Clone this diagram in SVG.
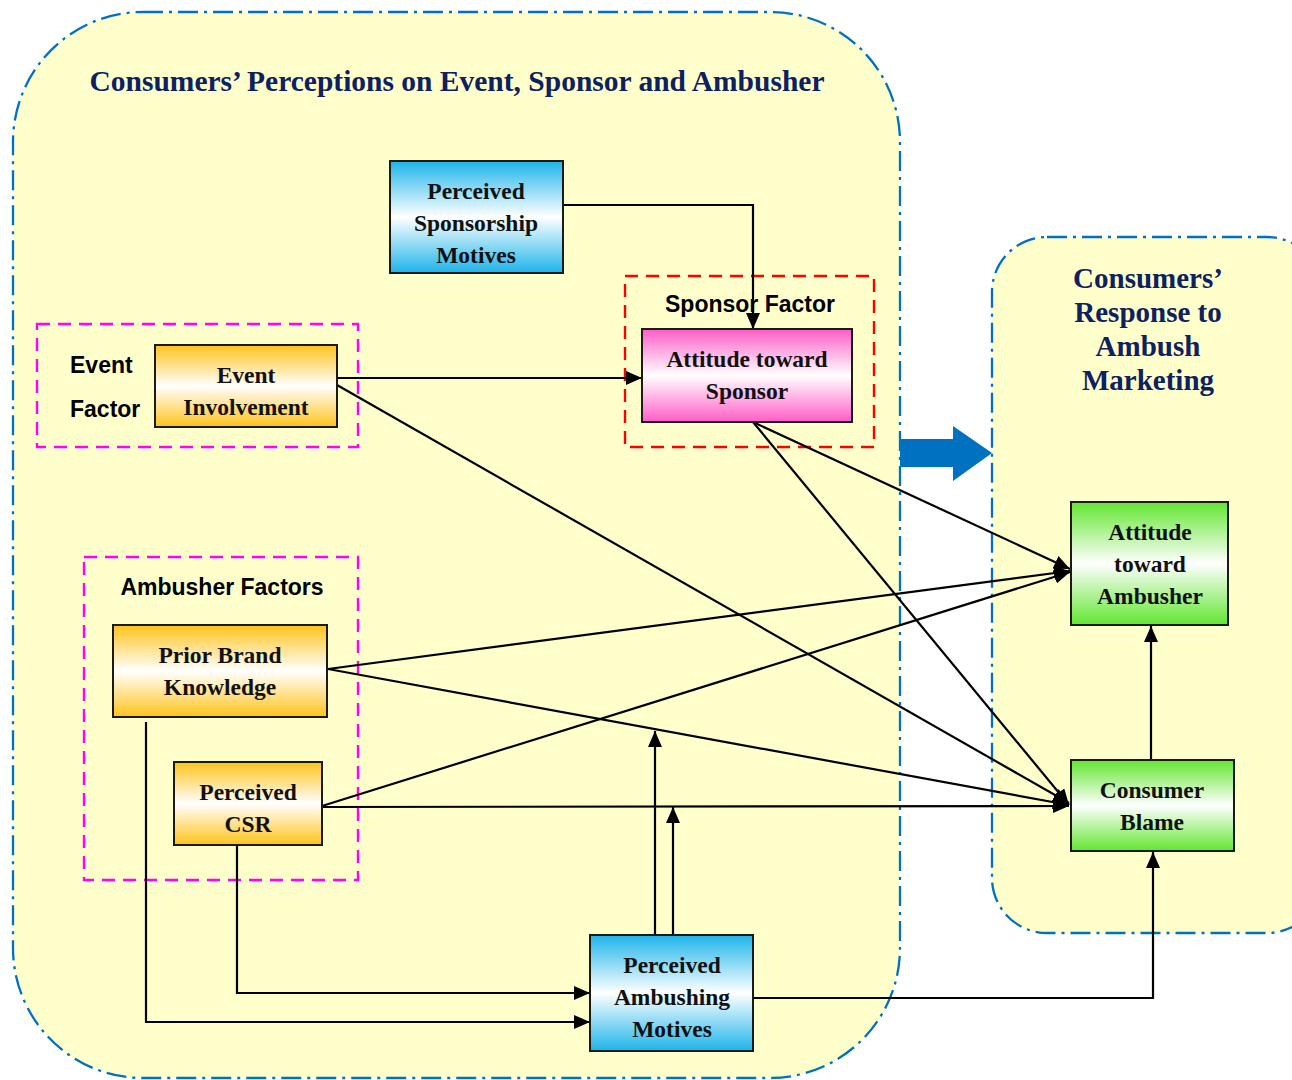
<svg xmlns="http://www.w3.org/2000/svg" width="1292" height="1080" viewBox="0 0 1292 1080">
<defs>
<linearGradient id="gBlue" x1="0" y1="0" x2="0" y2="1"><stop offset="0" stop-color="#1DB4EA"/><stop offset="0.5" stop-color="#FFFFFF"/><stop offset="1" stop-color="#1DB4EA"/></linearGradient>
<linearGradient id="gOrange" x1="0" y1="0" x2="0" y2="1"><stop offset="0" stop-color="#FFC31A"/><stop offset="0.5" stop-color="#FFFFFF"/><stop offset="1" stop-color="#FFC31A"/></linearGradient>
<linearGradient id="gPink" x1="0" y1="0" x2="0" y2="1"><stop offset="0" stop-color="#FF5CC6"/><stop offset="0.5" stop-color="#FFFFFF"/><stop offset="1" stop-color="#FF5CC6"/></linearGradient>
<linearGradient id="gGreen" x1="0" y1="0" x2="0" y2="1"><stop offset="0" stop-color="#62E630"/><stop offset="0.5" stop-color="#FFFFFF"/><stop offset="1" stop-color="#62E630"/></linearGradient>
<marker id="ah" markerUnits="userSpaceOnUse" markerWidth="16" markerHeight="14" refX="16" refY="7" orient="auto"><path d="M0,0 L16,7 L0,14 z" fill="#000"/></marker>
<style>
.panel{fill:#FFFFCC;stroke:#0070C0;stroke-width:2.3;stroke-dasharray:20 6 3 6}
.ptitle{font-family:"Liberation Serif","Times New Roman",serif;font-weight:bold;fill:#0D2160;text-anchor:middle}
.box{stroke:#1a1a1a;stroke-width:2}
.nt{font-family:"Liberation Serif","Times New Roman",serif;font-weight:bold;font-size:23.5px;fill:#111;text-anchor:middle}
.lbl{font-family:"Liberation Sans",Arial,sans-serif;font-weight:bold;font-size:23px;fill:#000}
.grpM{fill:none;stroke:#FF00FF;stroke-width:2.4;stroke-dasharray:13 8}
.grpR{fill:none;stroke:#FF0000;stroke-width:2.4;stroke-dasharray:13 8}
.c{fill:none;stroke:#000;stroke-width:2.2;marker-end:url(#ah)}
</style>
</defs>
<rect width="1292" height="1080" fill="#FFFFFF"/>
<g id="panel-left">
<rect class="panel" x="13" y="12" width="887" height="1066" rx="130" ry="130"/>
<text class="ptitle" x="457" y="91" font-size="29" textLength="735" lengthAdjust="spacingAndGlyphs">Consumers’ Perceptions on Event, Sponsor and Ambusher</text>
</g>
<g id="panel-right">
<rect class="panel" x="992" y="237" width="330" height="696" rx="55" ry="55"/>
<text class="ptitle" font-size="29" x="1148" y="288">Consumers’</text>
<text class="ptitle" font-size="29" x="1148" y="322">Response to</text>
<text class="ptitle" font-size="29" x="1148" y="356">Ambush</text>
<text class="ptitle" font-size="29" x="1148" y="390">Marketing</text>
</g>
<g id="big-arrow">
<polygon points="900,439 953,439 953,426 992,453 953,481 953,467 900,467" fill="#0070C0"/>
</g>
<g id="group-event">
<rect class="grpM" x="37" y="324" width="321" height="123"/>
<text class="lbl" x="70" y="373">Event</text>
<text class="lbl" x="70" y="417">Factor</text>
</g>
<g id="group-sponsor">
<rect class="grpR" x="625" y="276" width="249" height="171"/>
<text class="lbl" x="750" y="312" text-anchor="middle">Sponsor Factor</text>
</g>
<g id="group-ambusher">
<rect class="grpM" x="84" y="557" width="274" height="323"/>
<text class="lbl" x="222" y="595" text-anchor="middle">Ambusher Factors</text>
</g>
<g id="connectors">
<polyline class="c" points="563,205 753,205 753,329"/>
<line class="c" x1="337" y1="378" x2="642" y2="378"/>
<line class="c" x1="337" y1="385" x2="1069" y2="803"/>
<line class="c" x1="753" y1="422" x2="1070" y2="569"/>
<line class="c" x1="753" y1="422" x2="1069" y2="805"/>
<line class="c" x1="328" y1="669" x2="1070" y2="571"/>
<line class="c" x1="328" y1="669" x2="1069" y2="805"/>
<line class="c" x1="322" y1="806" x2="1070" y2="572"/>
<line class="c" x1="322" y1="807" x2="1069" y2="806"/>
<polyline class="c" points="146,722 146,1022 590,1022"/>
<polyline class="c" points="237,845 237,993 590,993"/>
<line class="c" x1="655" y1="935" x2="655" y2="731"/>
<line class="c" x1="673" y1="935" x2="673" y2="807"/>
<polyline class="c" points="753,998 1153,998 1153,852"/>
<line class="c" x1="1151" y1="760" x2="1151" y2="626"/>
</g>
<g id="node-psm">
<rect class="box" x="390" y="161" width="173" height="112" fill="url(#gBlue)"/>
<text class="nt" x="476" y="199">Perceived</text>
<text class="nt" x="476" y="231">Sponsorship</text>
<text class="nt" x="476" y="263">Motives</text>
</g>
<g id="node-ats">
<rect class="box" x="642" y="329" width="210" height="93" fill="url(#gPink)"/>
<text class="nt" x="747" y="367">Attitude toward</text>
<text class="nt" x="747" y="399">Sponsor</text>
</g>
<g id="node-ei">
<rect class="box" x="155" y="345" width="182" height="82" fill="url(#gOrange)"/>
<text class="nt" x="246" y="383">Event</text>
<text class="nt" x="246" y="415">Involvement</text>
</g>
<g id="node-pbk">
<rect class="box" x="113" y="625" width="214" height="92" fill="url(#gOrange)"/>
<text class="nt" x="220" y="663">Prior Brand</text>
<text class="nt" x="220" y="695">Knowledge</text>
</g>
<g id="node-csr">
<rect class="box" x="174" y="762" width="148" height="83" fill="url(#gOrange)"/>
<text class="nt" x="248" y="800">Perceived</text>
<text class="nt" x="248" y="832">CSR</text>
</g>
<g id="node-pam">
<rect class="box" x="590" y="935" width="163" height="116" fill="url(#gBlue)"/>
<text class="nt" x="672" y="973">Perceived</text>
<text class="nt" x="672" y="1005">Ambushing</text>
<text class="nt" x="672" y="1037">Motives</text>
</g>
<g id="node-ata">
<rect class="box" x="1071" y="502" width="157" height="123" fill="url(#gGreen)"/>
<text class="nt" x="1150" y="540">Attitude</text>
<text class="nt" x="1150" y="572">toward</text>
<text class="nt" x="1150" y="604">Ambusher</text>
</g>
<g id="node-cb">
<rect class="box" x="1071" y="760" width="163" height="91" fill="url(#gGreen)"/>
<text class="nt" x="1152" y="798">Consumer</text>
<text class="nt" x="1152" y="830">Blame</text>
</g>
</svg>
